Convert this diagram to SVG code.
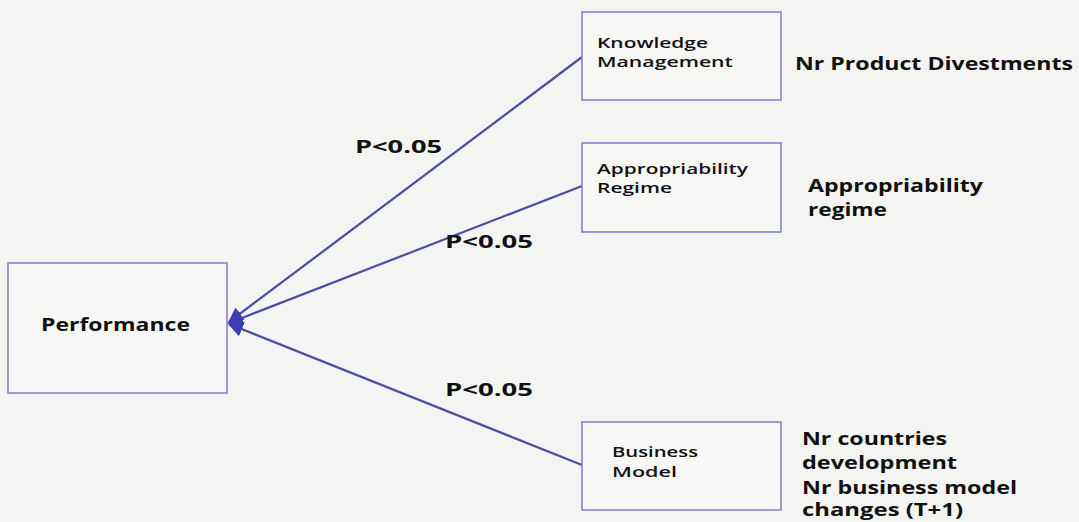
<svg xmlns="http://www.w3.org/2000/svg" width="1079" height="522" viewBox="0 0 1079 522">
<style>
.box{fill:#f7f7f5;stroke:#7d7ec9;stroke-width:1.5}
.lbl{font-family:"Open Sans","Liberation Sans",sans-serif;font-weight:600;fill:#111;font-size:14px}
.big{font-family:"Open Sans","Liberation Sans",sans-serif;font-weight:700;fill:#111;font-size:17px}
.con{stroke:#4b4caa;stroke-width:2.2;fill:none}
</style>
<defs>
<marker id="arr" viewBox="0 0 10 10" refX="9" refY="5" markerWidth="7" markerHeight="7" orient="auto">
<path d="M0,0 L10,5 L0,10 z" fill="#3c3fb0"/>
</marker>
</defs>
<rect width="1079" height="522" fill="#f4f4f2"/>
<g id="connectors">
<line class="con" x1="582" y1="57" x2="229" y2="322" marker-end="url(#arr)"/>
<line class="con" x1="582" y1="186" x2="229" y2="323" marker-end="url(#arr)"/>
<line class="con" x1="582" y1="465" x2="229" y2="324" marker-end="url(#arr)"/>
<text class="big" x="355" y="153" textLength="87" lengthAdjust="spacingAndGlyphs">P&lt;0.05</text>
<text class="big" x="445" y="248" textLength="88" lengthAdjust="spacingAndGlyphs">P&lt;0.05</text>
<text class="big" x="445" y="396" textLength="88" lengthAdjust="spacingAndGlyphs">P&lt;0.05</text>
</g>
<g id="performance">
<rect class="box" x="8" y="263" width="219" height="130"/>
<text class="big" x="41" y="331" textLength="149" lengthAdjust="spacingAndGlyphs">Performance</text>
</g>
<g id="knowledge">
<rect class="box" x="582" y="12" width="199" height="88"/>
<text class="lbl" x="597" y="48" textLength="111" lengthAdjust="spacingAndGlyphs">Knowledge</text>
<text class="lbl" x="597" y="67" textLength="136" lengthAdjust="spacingAndGlyphs">Management</text>
</g>
<g id="appropriability">
<rect class="box" x="582" y="143" width="199" height="89"/>
<text class="lbl" x="597" y="174" textLength="151" lengthAdjust="spacingAndGlyphs">Appropriability</text>
<text class="lbl" x="597" y="193" textLength="75" lengthAdjust="spacingAndGlyphs">Regime</text>
</g>
<g id="business">
<rect class="box" x="582" y="422" width="199" height="88"/>
<text class="lbl" x="612" y="457" textLength="86" lengthAdjust="spacingAndGlyphs">Business</text>
<text class="lbl" x="612" y="477" textLength="65" lengthAdjust="spacingAndGlyphs">Model</text>
</g>
<g id="notes">
<text class="big" x="795" y="70" textLength="278" lengthAdjust="spacingAndGlyphs">Nr Product Divestments</text>
<text class="big" x="808" y="192" textLength="175" lengthAdjust="spacingAndGlyphs">Appropriability</text>
<text class="big" x="808" y="216" textLength="79" lengthAdjust="spacingAndGlyphs">regime</text>
<text class="big" x="802" y="445" textLength="145" lengthAdjust="spacingAndGlyphs">Nr countries</text>
<text class="big" x="802" y="469" textLength="155" lengthAdjust="spacingAndGlyphs">development</text>
<text class="big" x="802" y="494" textLength="215" lengthAdjust="spacingAndGlyphs">Nr business model</text>
<text class="big" x="802" y="516" textLength="161" lengthAdjust="spacingAndGlyphs">changes (T+1)</text>
</g>
</svg>
